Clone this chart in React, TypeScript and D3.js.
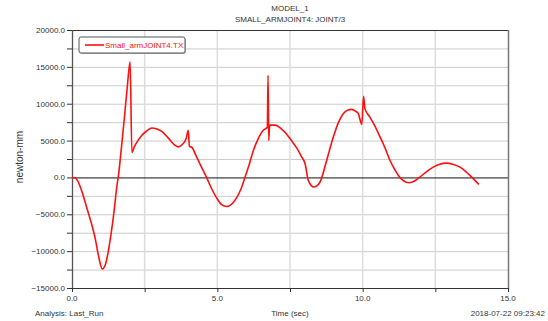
import React, { useEffect, useRef } from 'react';
import * as d3 from 'd3';

// time (sec) and torque (newton-mm)
const time = [
  0, 0.1, 0.2, 0.35, 0.5, 0.65, 0.8, 0.92, 1.04, 1.15, 1.25, 1.35, 1.45, 1.54, 1.6, 1.7, 1.8, 1.9, 2.0,
  2.06, 2.15, 2.25, 2.4, 2.57, 2.75, 2.9, 3.1, 3.3, 3.5, 3.65, 3.8, 3.93, 4.0, 4.04, 4.12, 4.25, 4.4,
  4.63, 4.8, 4.98, 5.15, 5.32, 5.5, 5.67, 5.82, 5.95, 6.1, 6.24, 6.4, 6.58, 6.72, 6.745, 6.77, 6.8,
  7.0, 7.2, 7.38, 7.55, 7.73, 7.9, 8.02, 8.13, 8.32, 8.53, 8.76, 8.99, 9.15, 9.33, 9.5, 9.62, 9.75,
  9.85, 9.97, 10.03, 10.08, 10.25, 10.43, 10.6, 10.78, 10.94, 11.1, 11.23, 11.4, 11.6, 11.8, 11.97,
  12.2, 12.43, 12.65, 12.89, 13.1, 13.35, 13.55, 13.75, 14.0,
];
const torque = [
  0, -50, -500, -2000, -4000, -6000, -8300, -10800, -12400, -11800, -10000, -7500, -4500, -1300, 300,
  4000, 8000, 12200, 15700, 3400, 4200, 4900, 5700, 6300, 6700, 6600, 6200, 5400, 4500, 4150, 4500,
  5300, 6400, 4200, 4100, 3100, 1850, 0, -1500, -2800, -3700, -3950, -3600, -2700, -1500, 0, 1800,
  3650, 5200, 6400, 6800, 13850, 5000, 7100, 7100, 6600, 5900, 5000, 4000, 2800, 1850, -400, -1300,
  -650, 2300, 5470, 7300, 8640, 9150, 9230, 9000, 8640, 7200, 11000, 9300, 8180, 6900, 5470, 3900,
  2300, 1100, 270, -450, -720, -450, 40, 800, 1400, 1800, 1940, 1800, 1400, 800, 40, -950,
];

const xTicks = [0, 5, 10, 15];
const xGrid = [2.5, 5, 7.5, 10, 12.5];
const yTicks = [-15000, -10000, -5000, 0, 5000, 10000, 15000, 20000];

const titleLines = ['MODEL_1', 'SMALL_ARMJOINT4: JOINT/3'];
const seriesName = 'Small_armJOINT4.TX';

const FONT = '"Liberation Sans", Arial, sans-serif';

const App = () => {
  const svgRef = useRef(null);
  const width = 548;
  const height = 321;

  useEffect(() => {
    d3.select(svgRef.current).selectAll('*').remove();
    const svg = d3.select(svgRef.current);

    const left = 72, right = 508, top = 30, bottom = 288;

    const x = d3.scaleLinear().domain([0, 15]).range([left, right]);
    const y = d3.scaleLinear().domain([-15000, 20000]).range([bottom, top]);

    svg.append('rect').attr('width', width).attr('height', height).attr('fill', '#fff');

    // grid
    const yMinor = d3.range(-15000, 20001, 2500);
    svg.append('g').selectAll('line')
      .data(yMinor.filter(v => v !== 0 && v !== 20000 && v !== -15000))
      .enter().append('line')
      .attr('x1', left).attr('x2', right)
      .attr('y1', d => y(d) + 0.5).attr('y2', d => y(d) + 0.5)
      .attr('stroke', '#cccccc').attr('stroke-width', 1);

    svg.append('g').selectAll('line')
      .data(xGrid)
      .enter().append('line')
      .attr('x1', d => x(d)).attr('x2', d => x(d))
      .attr('y1', top).attr('y2', bottom)
      .attr('stroke', '#dcdcdc').attr('stroke-width', 1.5);

    // zero line
    svg.append('line')
      .attr('x1', left).attr('x2', right)
      .attr('y1', y(0) + 0.5).attr('y2', y(0) + 0.5)
      .attr('stroke', '#111').attr('stroke-width', 1);

    // frame
    svg.append('line').attr('x1', left).attr('x2', right).attr('y1', top + 0.5).attr('y2', top + 0.5)
      .attr('stroke', '#333');
    svg.append('line').attr('x1', left).attr('x2', right).attr('y1', bottom + 0.5).attr('y2', bottom + 0.5)
      .attr('stroke', '#333');
    svg.append('line').attr('x1', left + 0.5).attr('x2', left + 0.5).attr('y1', top).attr('y2', bottom + 1)
      .attr('stroke', '#555').attr('stroke-width', 1.3);
    svg.append('line').attr('x1', right + 0.5).attr('x2', right + 0.5).attr('y1', top).attr('y2', bottom + 1)
      .attr('stroke', '#777').attr('stroke-width', 1.5);

    // y ticks
    const yAxis = svg.append('g').attr('font-family', FONT).attr('font-size', 8).attr('fill', '#333');
    yAxis.selectAll('line')
      .data(yMinor)
      .enter().append('line')
      .attr('x1', left - 5).attr('x2', left)
      .attr('y1', d => y(d) + 0.5).attr('y2', d => y(d) + 0.5)
      .attr('stroke', '#333');
    yAxis.selectAll('text')
      .data(yTicks)
      .enter().append('text')
      .attr('x', left - 7).attr('y', d => y(d) + 3)
      .attr('text-anchor', 'end')
      .text(d => d3.format('.1f')(d));

    // x ticks
    const xAxis = svg.append('g').attr('font-family', FONT).attr('font-size', 8).attr('fill', '#333');
    xAxis.selectAll('line')
      .data(d3.range(0, 15.01, 2.5))
      .enter().append('line')
      .attr('x1', d => x(d) + 0.5).attr('x2', d => x(d) + 0.5)
      .attr('y1', bottom).attr('y2', bottom + 4)
      .attr('stroke', '#333');
    xAxis.selectAll('text')
      .data(xTicks)
      .enter().append('text')
      .attr('x', d => x(d)).attr('y', bottom + 13)
      .attr('text-anchor', 'middle')
      .text(d => d3.format('.1f')(d));

    // series
    const pts = time.map((t, i) => [t, torque[i]]);
    const line = d3.line()
      .x(d => x(d[0]))
      .y(d => y(d[1]))
      .curve(d3.curveMonotoneX);
    svg.append('path')
      .datum(pts)
      .attr('fill', 'none')
      .attr('stroke', '#ff1010')
      .attr('stroke-width', 1.6)
      .attr('stroke-linejoin', 'round')
      .attr('d', line);

    // legend
    const lg = svg.append('g').attr('transform', 'translate(79,37)');
    lg.append('rect').attr('x', 1).attr('y', 1).attr('width', 106).attr('height', 16).attr('rx', 2)
      .attr('fill', '#bbb');
    lg.append('rect').attr('x', 0).attr('y', 0).attr('width', 106).attr('height', 16).attr('rx', 2)
      .attr('fill', '#fff').attr('stroke', '#555');
    lg.append('line').attr('x1', 6).attr('x2', 25).attr('y1', 8).attr('y2', 8)
      .attr('stroke', '#ff1010').attr('stroke-width', 1.6);
    lg.append('text').attr('x', 26).attr('y', 11)
      .attr('font-family', FONT).attr('font-size', 8).attr('fill', '#ff1010')
      .text(seriesName);

    // titles
    const txt = svg.append('g').attr('font-family', FONT).attr('font-size', 8).attr('fill', '#333');
    titleLines.forEach((t, i) => {
      txt.append('text').attr('x', 290).attr('y', 11 + i * 11)
        .attr('text-anchor', 'middle').text(t);
    });
    txt.append('text')
      .attr('transform', 'translate(23,157) rotate(-90)')
      .attr('font-size', 10)
      .attr('text-anchor', 'middle').text('newton-mm');
    txt.append('text').attr('x', 35).attr('y', 316).text('Analysis:  Last_Run');
    txt.append('text').attr('x', 290).attr('y', 316).attr('text-anchor', 'middle').text('Time (sec)');
    txt.append('text').attr('x', 545).attr('y', 316).attr('text-anchor', 'end').text('2018-07-22 09:23:42');
  }, []);

  return (
    <svg ref={svgRef} width={width} height={height}
      style={{ position: 'absolute', left: 0, top: 0, display: 'block' }} />
  );
};

export default App;
